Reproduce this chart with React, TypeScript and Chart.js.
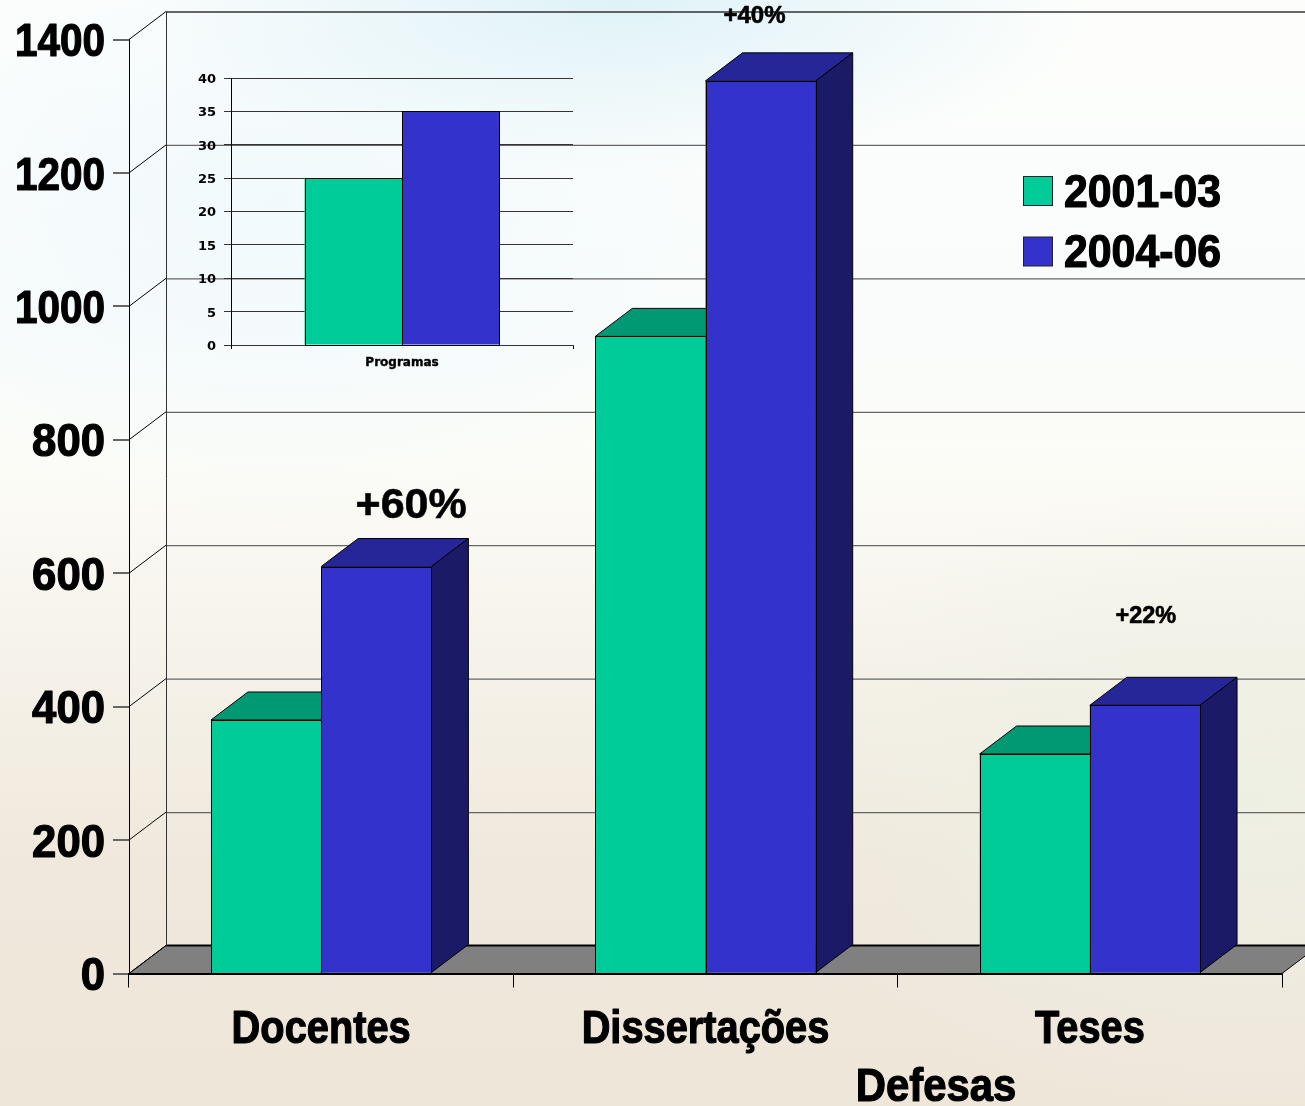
import React, { useEffect, useRef } from "react";
import { Chart, registerables } from "chart.js";

Chart.register(...registerables);

const categories = ["Docentes", "Dissertações", "Teses"];
const periodA = "2001-03";
const periodB = "2004-06";
const valuesA = [380, 955, 329];
const valuesB = [610, 1338, 402];
const axisTitle = "Defesas";
const growthLabels = ["+60%", "+40%", "+22%"];

const insetCategories = ["Programas"];
const insetValuesA = [25];
const insetValuesB = [35];

const GREEN = "#00CC99";
const BLUE = "#3333CC";
const GREEN_TOP = "#009973";
const BLUE_TOP = "#262699";
const GREEN_SIDE = "#006650";
const BLUE_SIDE = "#1A1A66";
const DX = 37;
const DY = 28;
const HEAVY = '"Liberation Sans", sans-serif';
const WIDE = '"DejaVu Sans", sans-serif';

function poly(ctx: CanvasRenderingContext2D, pts: number[][], fill: string, stroke = "#000", lw = 1) {
  ctx.beginPath();
  pts.forEach((p, i) => (i ? ctx.lineTo(p[0], p[1]) : ctx.moveTo(p[0], p[1])));
  ctx.closePath();
  ctx.fillStyle = fill;
  ctx.fill();
  ctx.strokeStyle = stroke;
  ctx.lineWidth = lw;
  ctx.stroke();
}

function seg(ctx: CanvasRenderingContext2D, x1: number, y1: number, x2: number, y2: number, c: string, lw = 1) {
  ctx.beginPath();
  ctx.moveTo(x1, y1);
  ctx.lineTo(x2, y2);
  ctx.strokeStyle = c;
  ctx.lineWidth = lw;
  ctx.stroke();
}

function boldText(ctx: CanvasRenderingContext2D, s: string, x: number, y: number, size: number, align: CanvasTextAlign, sx = 1, stroke = 1) {
  ctx.save();
  ctx.translate(x, y);
  ctx.scale(sx, 1);
  ctx.font = `bold ${size}px ${HEAVY}`;
  ctx.textAlign = align;
  ctx.textBaseline = "middle";
  ctx.fillStyle = "#000";
  ctx.fillText(s, 0, 0);
  if (stroke) {
    ctx.strokeStyle = "#000";
    ctx.lineWidth = stroke;
    ctx.lineJoin = "round";
    ctx.strokeText(s, 0, 0);
  }
  ctx.restore();
}

// crisp black outline round every bar front
const outlinePlugin = {
  id: "outline",
  afterDatasetsDraw(chart: any) {
    const { ctx } = chart;
    ctx.save();
    ctx.strokeStyle = "#000";
    ctx.lineWidth = 1;
    chart.data.datasets.forEach((_: any, d: number) => {
      chart.getDatasetMeta(d).data.forEach((b: any) => {
        const l = Math.round(b.x - b.width / 2) + 0.5;
        const r = Math.round(b.x + b.width / 2) + 0.5;
        const t = Math.round(b.y) + 0.5;
        const bt = Math.round(b.base) + 0.5;
        ctx.strokeRect(l, t, r - l, bt - t);
      });
    });
    ctx.restore();
  },
};

const depthPlugin = {
  id: "depth",
  beforeDatasetsDraw(chart: any) {
    const { ctx, chartArea, scales } = chart;
    const { left, right, bottom } = chartArea;
    const y = scales.y;
    const W = chart.width;
    ctx.save();
    // floor
    poly(ctx, [[left, bottom], [left + DX, bottom - DY], [right + DX, bottom - DY], [right, bottom]], "#808080", "#000", 1);
    seg(ctx, left + DX, bottom - DY, W, bottom - DY, "#000", 2);
    // walls
    y.ticks.forEach((t: any) => {
      const py = y.getPixelForValue(t.value);
      if (t.value > 0) {
        seg(ctx, left + DX, py - DY + 0.5, W, py - DY + 0.5, t.value === 1400 ? "#333" : "#666", t.value === 1400 ? 1.5 : 1.2);
      }
      seg(ctx, left, py, left + DX, py - DY, "#000", 1);
    });
    seg(ctx, left + DX + 0.5, y.getPixelForValue(1400) - DY, left + DX + 0.5, bottom - DY, "#333", 1);
    // bar depth faces
    [0, 1].forEach((d) => {
      chart.getDatasetMeta(d).data.forEach((b: any) => {
        const l = b.x - b.width / 2;
        const r = b.x + b.width / 2;
        poly(ctx, [[l, b.y], [l + DX, b.y - DY], [r + DX, b.y - DY], [r, b.y]], d ? BLUE_TOP : GREEN_TOP);
        poly(ctx, [[r, b.y], [r + DX, b.y - DY], [r + DX, b.base - DY], [r, b.base]], d ? BLUE_SIDE : GREEN_SIDE);
      });
    });
    ctx.restore();
  },
  afterDatasetsDraw(chart: any) {
    const { ctx, scales, data } = chart;
    const x = scales.x;
    const y = scales.y;
    ctx.save();
    // axis tick labels, narrowed to the condensed look of the original
    y.ticks.forEach((t: any) => {
      const sx = String(t.label).length === 4 ? 0.88 : 0.95;
      boldText(ctx, t.label, 105, y.getPixelForValue(t.value) + 4, 46, "right", sx, 1.2);
    });
    x.ticks.forEach((t: any) => {
      boldText(ctx, t.label, x.getPixelForValue(t.value), 1030, 46, "center", 0.865, 1.2);
    });
    // growth labels, placed relative to each taller bar
    const sizes = [43, 24, 23.5];
    const dxs = [90, 49, 56];
    const dys = [60, 64, 89];
    growthLabels.forEach((s, i) => {
      const px = x.getPixelForValue(i) + dxs[i];
      const py = y.getPixelForValue(valuesB[i]) - dys[i];
      boldText(ctx, s, px, py, sizes[i], "center", 1, 0.6);
    });
    // legend
    data.datasets.forEach((ds: any, i: number) => {
      const sy = 176.5 + i * 60.5;
      ctx.fillStyle = ds.backgroundColor;
      ctx.fillRect(1023.5, sy, 29, 29);
      ctx.strokeStyle = "#222";
      ctx.lineWidth = 1;
      ctx.strokeRect(1023.5, sy, 29, 29);
      boldText(ctx, ds.label, 1064, 194 + i * 60, 46, "left", 0.93, 1.2);
    });
    // axis title
    boldText(ctx, axisTitle, 936, 1088, 46, "center", 0.91, 1.2);
    ctx.restore();
  },
};

export default function App() {
  const mainRef = useRef<HTMLCanvasElement>(null);
  const insetRef = useRef<HTMLCanvasElement>(null);

  useEffect(() => {
    const main = new Chart(mainRef.current!, {
      type: "bar",
      data: {
        labels: categories,
        datasets: [
          { label: periodA, data: valuesA, backgroundColor: GREEN, borderWidth: 0, categoryPercentage: 0.5735, barPercentage: 1 },
          { label: periodB, data: valuesB, backgroundColor: BLUE, borderWidth: 0, categoryPercentage: 0.5735, barPercentage: 1 },
        ],
      },
      options: {
        animation: false,
        responsive: false,
        layout: { padding: { top: 39.5, right: 23, left: 0, bottom: 0 } },
        plugins: { legend: { display: false }, tooltip: { enabled: false }, title: { display: false } },
        scales: {
          x: {
            afterFit: (s: any) => { s.height = 132.5; },
            grid: { drawOnChartArea: false, tickLength: 14, color: "#000", lineWidth: 1 },
            border: { color: "#000", width: 2 },
            ticks: { display: false },
          },
          y: {
            min: 0,
            max: 1400,
            afterFit: (s: any) => { s.width = 129; },
            grid: { drawOnChartArea: false, tickLength: 16, color: "#666", lineWidth: 2 },
            border: { color: "#000", width: 1 },
            ticks: { display: false, stepSize: 200, callback: (v: any) => String(v) },
          },
        },
      } as any,
      plugins: [depthPlugin, outlinePlugin],
    });

    const inset = new Chart(insetRef.current!, {
      type: "bar",
      data: {
        labels: insetCategories,
        datasets: [
          { label: periodA, data: insetValuesA, backgroundColor: GREEN, borderWidth: 0, categoryPercentage: 0.57, barPercentage: 1 },
          { label: periodB, data: insetValuesB, backgroundColor: BLUE, borderWidth: 0, categoryPercentage: 0.57, barPercentage: 1 },
        ],
      },
      options: {
        animation: false,
        responsive: false,
        layout: { padding: { top: 18, right: 14, left: 0, bottom: 0 } },
        plugins: { legend: { display: false }, tooltip: { enabled: false } },
        scales: {
          x: {
            afterFit: (s: any) => { s.height = 35; },
            grid: { drawOnChartArea: false, tickLength: 4, color: "#000" },
            border: { color: "#333", width: 1 },
            ticks: { font: { family: WIDE, size: 12, weight: "bold" }, color: "#000", padding: 7, maxRotation: 0, textStrokeColor: "#000", textStrokeWidth: 0.4 },
          },
          y: {
            min: 0,
            max: 40,
            afterFit: (s: any) => { s.width = 61; },
            grid: { color: "#333", lineWidth: 1, tickLength: 7 },
            border: { color: "#000", width: 1 },
            ticks: { stepSize: 5, font: { family: WIDE, size: 13, weight: "bold" }, color: "#000", padding: 8, labelOffset: 1.5 },
          },
        },
      } as any,
      plugins: [outlinePlugin],
    });

    return () => {
      main.destroy();
      inset.destroy();
    };
  }, []);

  return (
    <div
      style={{
        position: "absolute",
        left: 0,
        top: 0,
        width: 1305,
        height: 1106,
        overflow: "hidden",
        background:
          "radial-gradient(ellipse 480px 170px at 620px 0px, #dff2f8 0%, rgba(223,242,248,0) 100%)," +
          "radial-gradient(ellipse 480px 320px at 280px 200px, rgba(240,249,253,0.9) 0%, rgba(240,249,253,0) 100%)," +
          "radial-gradient(ellipse 500px 320px at 1250px 800px, rgba(238,240,228,0.9) 0%, rgba(238,240,228,0) 100%)," +
          "linear-gradient(180deg, #fdfefc 0%, #f9fcfb 30%, #fcfcf7 42%, #f6f3eb 58%, #f0e8dc 78%, #efe6da 100%)",
      }}
    >
      <canvas ref={mainRef} width={1305} height={1106} style={{ position: "absolute", left: 0, top: 0 }} />
      <canvas ref={insetRef} width={417} height={320} style={{ position: "absolute", left: 170, top: 60 }} />
    </div>
  );
}
